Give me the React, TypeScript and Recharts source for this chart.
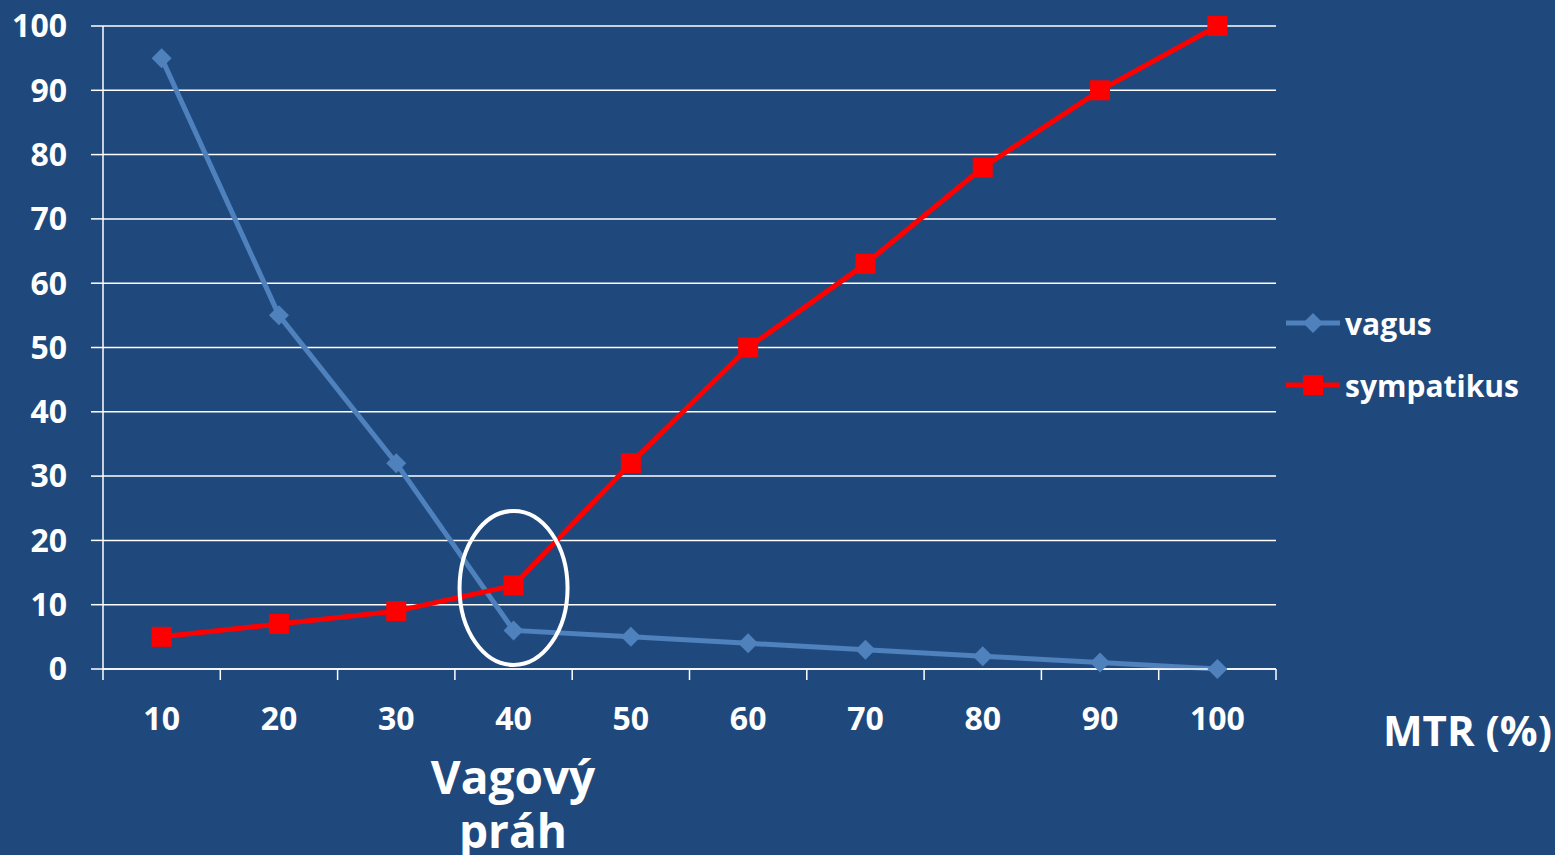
import React from 'react'
import {
  LineChart, Line, XAxis, YAxis, CartesianGrid, Legend, ReferenceDot,
} from 'recharts'

const MTR = [10, 20, 30, 40, 50, 60, 70, 80, 90, 100]
const VAGUS = [95, 55, 32, 6, 5, 4, 3, 2, 1, 0]
const SYMPATIKUS = [5, 7, 9, 13, 32, 50, 63, 78, 90, 100]

const Y_TICKS = [0, 10, 20, 30, 40, 50, 60, 70, 80, 90, 100]
// category boundaries (tick marks) and centres (labels)
const X_BOUNDS = [5, 15, 25, 35, 45, 55, 65, 75, 85, 95, 105]
const X_TICKS = [...X_BOUNDS, ...MTR].sort((a, b) => a - b)

// the circled threshold point
const THRESHOLD = { x: 40, y: 12.6 }

const BG = '#1F497D'
const BLUE = '#4F81BD'
const RED = '#FF0000'
const FONT = '"Open Sans", "DejaVu Sans", sans-serif'

const data = MTR.map((m, i) => ({ mtr: m, vagus: VAGUS[i], sympatikus: SYMPATIKUS[i] }))

const SERIES = [
  { key: 'vagus', color: BLUE, marker: 'diamond' },
  { key: 'sympatikus', color: RED, marker: 'square' },
]

function Marker({ cx, cy, type, color }: { cx: number; cy: number; type: string; color: string }) {
  if (type === 'diamond') {
    return <polygon points={`${cx},${cy - 10} ${cx + 10},${cy} ${cx},${cy + 10} ${cx - 10},${cy}`} fill={color} />
  }
  return <rect x={cx - 10} y={cy - 10} width={20} height={20} fill={color} />
}

function XTick(props: any) {
  const { x, y, payload } = props
  const v = payload.value
  if (v % 10 === 5) {
    return <line x1={x} y1={y} x2={x} y2={y + 11} stroke="#fff" strokeWidth={1.5} />
  }
  return (
    <text x={x} y={y + 61} textAnchor="middle" fill="#fff" fontSize={32} fontWeight={700} fontFamily={FONT}>
      {v}
    </text>
  )
}

function renderLegend() {
  return (
    <div>
      {SERIES.map((s) => (
        <div key={s.key} style={{ display: 'flex', alignItems: 'center', height: 62 }}>
          <svg width={60} height={30}>
            <line x1={2} y1={15} x2={56} y2={15} stroke={s.color} strokeWidth={5} />
            <Marker cx={29} cy={15} type={s.marker} color={s.color} />
          </svg>
          <span style={{ color: '#fff', fontSize: 30, fontWeight: 700, fontFamily: FONT, marginLeft: 1 }}>{s.key}</span>
        </div>
      ))}
    </div>
  )
}

const labelStyle: React.CSSProperties = {
  position: 'absolute', color: '#fff', fontWeight: 700, whiteSpace: 'nowrap', textAlign: 'center',
}

export default function App() {
  return (
    <div style={{ position: 'absolute', left: 0, top: 0, width: 1555, height: 855, background: BG, overflow: 'hidden', fontFamily: FONT }}>
      <LineChart width={1555} height={855} data={data} margin={{ top: 26, right: 279, left: 0, bottom: 126 }}>
        <CartesianGrid horizontal vertical={false} stroke="#fff" strokeWidth={1.5} strokeOpacity={1} />
        <XAxis
          dataKey="mtr"
          type="number"
          domain={[5, 105]}
          ticks={X_TICKS}
          interval={0}
          height={60}
          tickSize={0}
          tickMargin={0}
          tickLine={false}
          axisLine={{ stroke: '#fff', strokeWidth: 1.5 }}
          tick={<XTick />}
        />
        <YAxis
          type="number"
          domain={[0, 100]}
          ticks={Y_TICKS}
          interval={0}
          width={103}
          tickSize={12}
          tickMargin={24}
          axisLine={{ stroke: '#fff', strokeWidth: 1.5 }}
          tickLine={{ stroke: '#fff', strokeWidth: 1.5 }}
          tick={{ fill: '#fff', fontSize: 32, fontWeight: 700, fontFamily: FONT }}
        />
        <Legend
          layout="vertical"
          align="center"
          verticalAlign="middle"
          wrapperStyle={{ left: 1284, top: 292, width: 270 }}
          content={renderLegend}
        />
        {SERIES.map((s) => (
          <Line
            key={s.key}
            dataKey={s.key}
            stroke={s.color}
            strokeWidth={5}
            isAnimationActive={false}
            dot={(p: any) => <Marker key={p.index} cx={p.cx} cy={p.cy} type={s.marker} color={s.color} />}
            activeDot={false}
          />
        ))}
        <ReferenceDot
          x={THRESHOLD.x}
          y={THRESHOLD.y}
          r={1}
          shape={(p: any) => <ellipse cx={p.cx} cy={p.cy} rx={54} ry={77} fill="none" stroke="#fff" strokeWidth={4} />}
        />
      </LineChart>
      <div style={{ ...labelStyle, left: 1383, top: 702, fontSize: 42, lineHeight: '56px', textAlign: 'left' }}>
        MTR (%)
      </div>
      <div style={{ ...labelStyle, left: 413, top: 750, width: 200, fontSize: 46, lineHeight: '52px' }}>
        Vagový
      </div>
      <div style={{ ...labelStyle, left: 413, top: 804, width: 200, fontSize: 46, lineHeight: '52px' }}>
        práh
      </div>
    </div>
  )
}
